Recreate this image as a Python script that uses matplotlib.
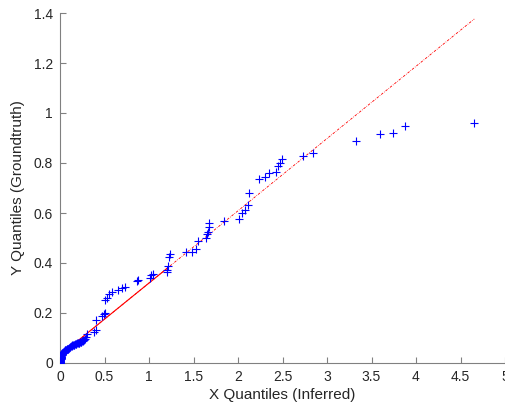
import numpy as np
import matplotlib
matplotlib.use("Agg")
import matplotlib.pyplot as plt

# Quantile pairs (sorted inferred / groundtruth)
x_low = [0.000, 0.000, 0.000, 0.000, 0.000, 0.000, 0.001, 0.001, 0.001, 0.002,
         0.002, 0.003, 0.003, 0.004, 0.004, 0.005, 0.005, 0.006, 0.007, 0.008,
         0.008, 0.009, 0.010, 0.011, 0.012, 0.013, 0.014, 0.015, 0.016, 0.017,
         0.018, 0.020]
y_low = [0.000, 0.001, 0.002, 0.003, 0.004, 0.005, 0.006, 0.007, 0.008, 0.009,
         0.010, 0.011, 0.012, 0.013, 0.014, 0.015, 0.016, 0.017, 0.018, 0.019,
         0.020, 0.021, 0.022, 0.023, 0.024, 0.025, 0.026, 0.028, 0.030, 0.032,
         0.034, 0.036]
x_mid = [0.022, 0.025, 0.028, 0.031, 0.034, 0.037, 0.040, 0.044, 0.048, 0.052,
         0.056, 0.060, 0.065, 0.070, 0.075, 0.080, 0.086, 0.092, 0.098, 0.104,
         0.110, 0.117, 0.124, 0.131, 0.138, 0.145, 0.152, 0.160, 0.168, 0.176,
         0.184, 0.192, 0.200, 0.208, 0.216, 0.224, 0.232, 0.240, 0.250, 0.260,
         0.270, 0.280, 0.290, 0.300]
y_mid = [0.038, 0.039, 0.040, 0.041, 0.042, 0.043, 0.044, 0.046, 0.048, 0.050,
         0.051, 0.052, 0.053, 0.054, 0.055, 0.056, 0.057, 0.058, 0.059, 0.061,
         0.063, 0.065, 0.067, 0.069, 0.071, 0.072, 0.073, 0.074, 0.076, 0.077,
         0.078, 0.079, 0.080, 0.081, 0.082, 0.083, 0.084, 0.085, 0.087, 0.090,
         0.092, 0.095, 0.106, 0.118]
x_high = [0.38, 0.40, 0.41, 0.47, 0.49, 0.505, 0.506, 0.524, 0.554, 0.58,
          0.655, 0.693, 0.73, 0.86, 0.88, 1.01, 1.02, 1.04, 1.206, 1.206,
          1.21, 1.225, 1.236, 1.416, 1.479, 1.524, 1.547, 1.64, 1.655, 1.667,
          1.67, 1.678, 1.843, 2.015, 2.04, 2.08, 2.116, 2.125, 2.24, 2.30,
          2.35, 2.43, 2.45, 2.47, 2.49, 2.734, 2.846, 3.33, 3.60, 3.745,
          3.88, 4.655]
y_high = [0.125, 0.133, 0.172, 0.188, 0.195, 0.200, 0.252, 0.262, 0.276, 0.285,
          0.292, 0.299, 0.305, 0.329, 0.333, 0.339, 0.352, 0.356, 0.364, 0.372,
          0.388, 0.423, 0.436, 0.443, 0.445, 0.455, 0.489, 0.499, 0.516, 0.525,
          0.543, 0.559, 0.569, 0.575, 0.600, 0.612, 0.632, 0.681, 0.736, 0.745,
          0.761, 0.766, 0.790, 0.800, 0.815, 0.829, 0.839, 0.890, 0.917, 0.920,
          0.948, 0.959]

x_ticks = [0, 0.5, 1, 1.5, 2, 2.5, 3, 3.5, 4, 4.5, 5]
x_tick_labels = ["0", "0.5", "1", "1.5", "2", "2.5", "3", "3.5", "4", "4.5", "5"]
y_ticks = [0, 0.2, 0.4, 0.6, 0.8, 1.0, 1.2, 1.4]
y_tick_labels = ["0", "0.2", "0.4", "0.6", "0.8", "1", "1.2", "1.4"]

xq = np.array(x_low + x_mid + x_high)
yq = np.array(y_low + y_mid + y_high)

plt.rcParams['font.family'] = ['Liberation Sans', 'DejaVu Sans']

fig = plt.figure(figsize=(5.06, 4.09), dpi=100)
ax = fig.add_axes([60/506, 46/409, 445/506, 350/409])

# qqplot reference line: through 1st and 3rd quartiles
q1x, q3x = np.percentile(xq, [25, 75], method='hazen')
q1y, q3y = np.percentile(yq, [25, 75], method='hazen')
slope = (q3y - q1y) / (q3x - q1x)
xe = np.array([xq.min(), xq.max()])
ax.plot(xe, q1y + slope * (xe - q1x), linestyle=(0, (3, 1.5, 0.8, 1.5)),
        color='red', linewidth=0.6, zorder=1)
xs = np.array([q1x, q3x])
ax.plot(xs, [q1y, q3y], '-', color='red', linewidth=0.8, zorder=2)

ax.plot(xq, yq, '+', color='blue', markersize=6, markeredgewidth=0.8,
        linestyle='none', zorder=3)

ax.set_xlim(0, 5)
ax.set_ylim(0, 1.4)
ax.set_xticks(x_ticks)
ax.set_xticklabels(x_tick_labels)
ax.set_yticks(y_ticks)
ax.set_yticklabels(y_tick_labels)

for s in ['top', 'right']:
    ax.spines[s].set_visible(False)
for s in ['left', 'bottom']:
    ax.spines[s].set_color('#808080')
    ax.spines[s].set_linewidth(0.8)
ax.tick_params(direction='in', length=4, width=0.8, color='#808080',
               labelcolor='#262626', labelsize=10, pad=5)

ax.set_xlabel('X Quantiles (Inferred)', fontsize=11, color='#262626', labelpad=3)
ax.set_ylabel('Y Quantiles (Groundtruth)', fontsize=11, color='#262626', labelpad=6)

fig.savefig('out.png', dpi=100)
